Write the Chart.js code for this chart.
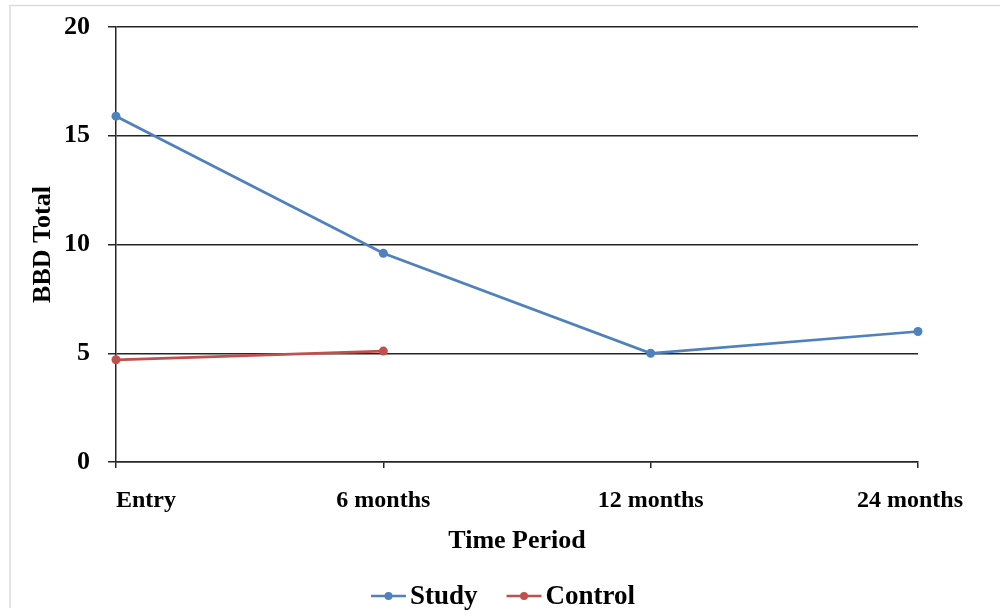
<!DOCTYPE html>
<html>
<head>
<meta charset="utf-8">
<script src="https://cdn.jsdelivr.net/npm/chart.js@4/dist/chart.umd.min.js"></script>
<style>
  html, body { margin: 0; padding: 0; background: #ffffff; }
  #wrap { width: 1000px; height: 616px; position: relative; }
</style>
</head>
<body>
<div id="wrap"><canvas id="c" width="1000" height="616"></canvas></div>
<script>
const categories = ['Entry', '6 months', '12 months', '24 months'];
const studyValues = [15.9, 9.6, 5.0, 6.0];
const controlValues = [4.7, 5.1, null, null];
const seriesNames = ['Study', 'Control'];
const yMin = 0, yMax = 20, yStep = 5;
const xTitle = 'Time Period';
const yTitle = 'BBD Total';

const FONT = "'Liberation Serif', 'Times New Roman', Times, serif";
const STUDY_COLOR = '#4F81BD';
const CONTROL_COLOR = '#C0504D';
const GRID = '#262626';

const framePlugin = {
  id: 'frame',
  beforeDraw(chart) {
    const ctx = chart.ctx;
    ctx.save();
    ctx.fillStyle = '#ffffff';
    ctx.fillRect(0, 0, chart.width, chart.height);
    ctx.strokeStyle = '#dcdcdc';
    ctx.lineWidth = 1.5;
    ctx.beginPath();
    ctx.moveTo(10, 608);
    ctx.lineTo(10, 5.5);
    ctx.lineTo(1000, 5.5);
    ctx.stroke();
    ctx.restore();
    // first category label starts at its tick, as in the original
    const xs = chart.scales.x;
    if (xs && xs.getLabelItems) {
      const items = xs.getLabelItems(chart.chartArea);
      if (items && items.length) {
        items[0].options.textAlign = 'left';
        const last = items[items.length - 1];
        if (last.options.translation) last.options.translation[0] -= 8;
      }
    }
  }
};

const legendPlugin = {
  id: 'lineLegend',
  afterDraw(chart) {
    const ctx = chart.ctx;
    ctx.save();
    ctx.font = 'bold 27px ' + FONT;
    ctx.textBaseline = 'middle';
    ctx.textAlign = 'left';
    const lineW = 35, gapText = 4, gapItem = 29;
    const items = chart.data.datasets.map(d => ({ label: d.label, color: d.borderColor, w: ctx.measureText(d.label).width }));
    let total = 0;
    items.forEach((it, i) => { total += lineW + gapText + it.w + (i < items.length - 1 ? gapItem : 0); });
    let x = 503 - total / 2;
    const y = 596;
    items.forEach(it => {
      ctx.strokeStyle = it.color;
      ctx.lineWidth = 2.5;
      ctx.beginPath();
      ctx.moveTo(x, y);
      ctx.lineTo(x + lineW, y);
      ctx.stroke();
      ctx.fillStyle = it.color;
      ctx.beginPath();
      ctx.arc(x + lineW / 2, y, 4, 0, Math.PI * 2);
      ctx.fill();
      ctx.fillStyle = '#000000';
      ctx.fillText(it.label, x + lineW + gapText, y + 1);
      x += lineW + gapText + it.w + gapItem;
    });
    ctx.restore();
  }
};

new Chart(document.getElementById('c'), {
  type: 'line',
  data: {
    labels: categories,
    datasets: [
      {
        label: seriesNames[0],
        data: studyValues,
        borderColor: STUDY_COLOR,
        backgroundColor: STUDY_COLOR,
        borderWidth: 2.75,
        pointRadius: 4.5,
        pointHoverRadius: 4.5,
        pointBackgroundColor: STUDY_COLOR,
        pointBorderWidth: 0,
        tension: 0,
        clip: false
      },
      {
        label: seriesNames[1],
        data: controlValues,
        borderColor: CONTROL_COLOR,
        backgroundColor: CONTROL_COLOR,
        borderWidth: 2.75,
        pointRadius: 4.5,
        pointHoverRadius: 4.5,
        pointBackgroundColor: CONTROL_COLOR,
        pointBorderWidth: 0,
        tension: 0,
        clip: false,
        spanGaps: false
      }
    ]
  },
  options: {
    responsive: false,
    animation: false,
    devicePixelRatio: 1,
    layout: { padding: { left: 28, top: 27, right: 82, bottom: 59 } },
    plugins: {
      legend: { display: false },
      tooltip: { enabled: false },
      title: { display: false }
    },
    scales: {
      x: {
        type: 'category',
        offset: false,
        afterFit(s) { s.height = 95; s.paddingLeft = 0; s.paddingRight = 0; },
        grid: {
          display: true,
          drawOnChartArea: false,
          drawTicks: true,
          tickLength: 6,
          color: GRID,
          lineWidth: 1.5
        },
        border: { display: true, color: GRID, width: 1.5 },
        ticks: {
          color: '#000000',
          font: { family: FONT, size: 24, weight: 'bold' },
          padding: 18,
          maxRotation: 0,
          autoSkip: false
        },
        title: {
          display: true,
          text: xTitle,
          color: '#000000',
          font: { family: FONT, size: 26, weight: 'bold' },
          padding: { top: 0, bottom: 0 }
        }
      },
      y: {
        min: yMin,
        max: yMax,
        afterFit(s) { s.width = 88; s.paddingTop = 0; s.paddingBottom = 0; },
        grid: {
          display: true,
          drawOnChartArea: true,
          drawTicks: true,
          tickLength: 8,
          color: GRID,
          lineWidth: 1.5
        },
        border: { display: true, color: GRID, width: 1.5 },
        ticks: {
          stepSize: yStep,
          color: '#000000',
          font: { family: FONT, size: 26, weight: 'bold' },
          padding: 18
        },
        title: {
          display: true,
          text: yTitle,
          color: '#000000',
          font: { family: FONT, size: 26, weight: 'bold' },
          padding: { top: 0, bottom: 0 }
        }
      }
    }
  },
  plugins: [framePlugin, legendPlugin]
});
</script>
</body>
</html>
